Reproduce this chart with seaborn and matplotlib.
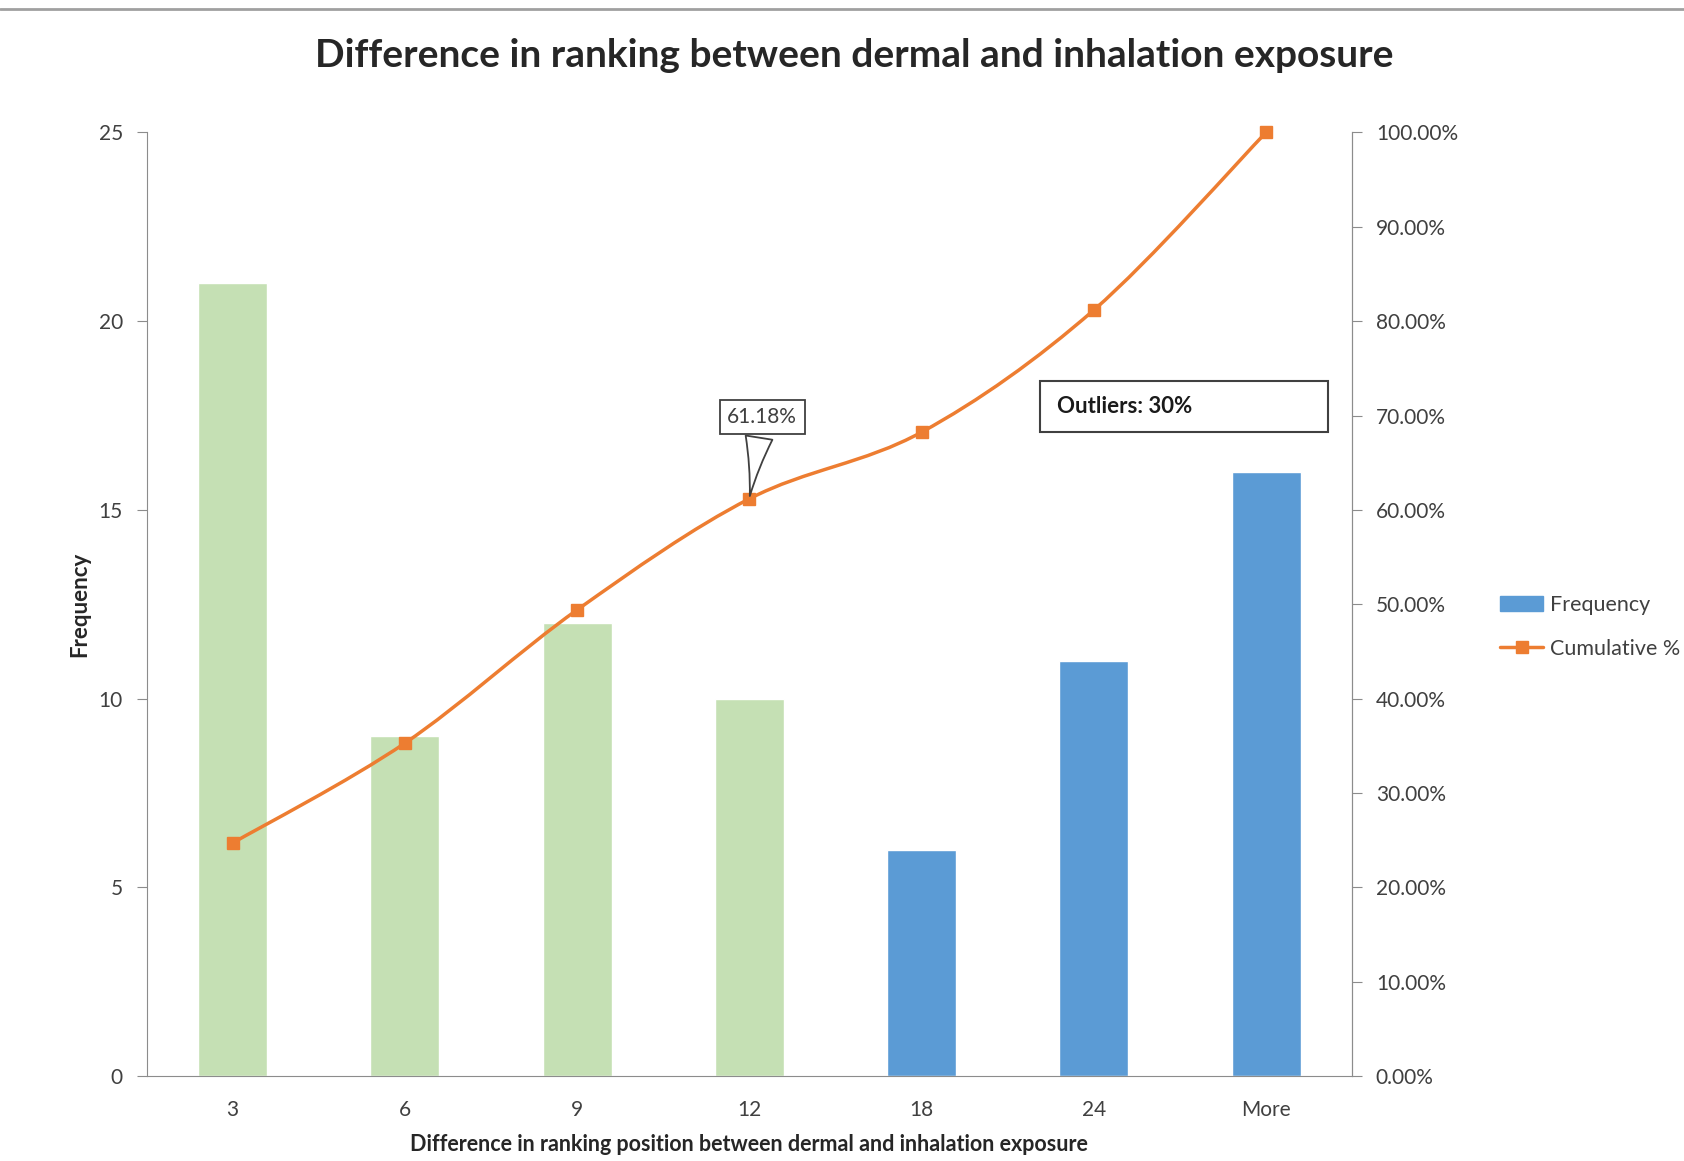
import matplotlib
matplotlib.use("Agg")
import matplotlib.pyplot as plt
import seaborn as sns
from matplotlib.path import Path
from matplotlib.patches import PathPatch, Patch, Rectangle
from matplotlib.lines import Line2D
from matplotlib.ticker import FuncFormatter

bins = ["3", "6", "9", "12", "18", "24", "More"]
frequency = [21, 9, 12, 10, 6, 11, 16]
cumulative = [0.2471, 0.3529, 0.4941, 0.6118, 0.6824, 0.8118, 1.0]
bar_colors = ["#C5E0B4"] * 4 + ["#5B9BD5"] * 3

orange = "#ED7D31"
axis_grey = "#8C8C8C"

sns.set_style("white")
plt.rcParams["font.family"] = ["Lato", "DejaVu Sans"]

fig = plt.figure(figsize=(16.84, 11.61), dpi=100)
ax = fig.add_axes([0.087, 0.073, 0.716, 0.813])

sns.barplot(x=bins, y=frequency, hue=bins, palette=bar_colors, legend=False,
            width=0.4, saturation=1, ax=ax)
ax.set_ylim(0, 25)
ax.set_xlim(-0.5, 6.5)
ax.set_yticks(range(0, 26, 5))
ax.set_ylabel("Frequency", fontsize=16, fontweight="bold", labelpad=6)
ax.set_xlabel("Difference in ranking position between dermal and inhalation exposure",
              fontsize=15.5, fontweight="bold", labelpad=10)

# category boundaries carry the tick marks, labels sit at centres
ax.set_xticks([i - 0.5 for i in range(8)], minor=True)
ax.tick_params(axis="x", which="major", length=0, labelsize=15, pad=17, colors="#404040")
ax.tick_params(axis="x", which="minor", length=7, color=axis_grey, width=1)
ax.tick_params(axis="y", length=7, color=axis_grey, labelsize=15, colors="#404040", pad=10)

ax.spines["top"].set_visible(False)
for side in ["left", "bottom", "right"]:
    ax.spines[side].set_color(axis_grey)

ax2 = ax.twinx()
ax2.set_ylim(0, 1)
ax2.set_yticks([i / 10 for i in range(11)])
ax2.yaxis.set_major_formatter(FuncFormatter(lambda v, p: f"{v:.2%}"))
ax2.tick_params(axis="y", length=7, color=axis_grey, labelsize=15, colors="#404040", pad=10)
for side in ["top", "left", "bottom"]:
    ax2.spines[side].set_visible(False)
ax2.spines["right"].set_color(axis_grey)

# smoothed line, Catmull-Rom segments drawn as cubic Beziers
xs = list(range(len(cumulative)))
pts = list(zip(xs, cumulative))
ext = [pts[0]] + pts + [pts[-1]]
verts = [pts[0]]
codes = [Path.MOVETO]
for i in range(1, len(ext) - 2):
    p0, p1, p2, p3 = ext[i - 1], ext[i], ext[i + 1], ext[i + 2]
    c1 = (p1[0] + (p2[0] - p0[0]) / 6, p1[1] + (p2[1] - p0[1]) / 6)
    c2 = (p2[0] - (p3[0] - p1[0]) / 6, p2[1] - (p3[1] - p1[1]) / 6)
    verts += [c1, c2, p2]
    codes += [Path.CURVE4] * 3
ax2.add_patch(PathPatch(Path(verts, codes), fill=False, ec=orange, lw=2.5, zorder=3))
ax2.plot(xs, cumulative, linestyle="none", marker="s", markersize=8, color=orange,
         zorder=4, clip_on=False)

ax2.annotate("61.18%", xy=(3, cumulative[3]), xytext=(3.075, 0.6985),
             ha="center", va="center", fontsize=15, color="#404040",
             bbox=dict(boxstyle="square,pad=0.35", fc="white", ec="#404040", lw=1.3),
             arrowprops=dict(arrowstyle="wedge,tail_width=1.3,shrink_factor=0.4",
                             fc="white", ec="#404040", lw=1.3),
             zorder=5)

ax2.add_patch(Rectangle((4.685, 0.683), 1.672, 0.054, fill=False, ec="#404040", lw=1.5, zorder=5))
ax2.text(4.785, 0.71, "Outliers: 30%", fontsize=16, fontweight="bold", va="center",
         color="#1a1a1a", zorder=6)

fig.suptitle("Difference in ranking between dermal and inhalation exposure",
             x=0.507, y=0.967, fontsize=28, fontweight="bold")

handles = [Patch(color="#5B9BD5", label="Frequency"),
           Line2D([], [], color=orange, lw=2.5, marker="s", markersize=8, label="Cumulative %")]
fig.legend(handles=handles, loc="center left", bbox_to_anchor=(0.891, 0.460),
           frameon=False, fontsize=15.5, handlelength=2.0, labelspacing=1.12,
           handletextpad=0.3, labelcolor="#404040", borderaxespad=0, borderpad=0)

fig.add_artist(Line2D([0, 1], [0.992, 0.992], color="#A0A0A0", lw=2, transform=fig.transFigure))

fig.savefig("out.png", dpi=100)
